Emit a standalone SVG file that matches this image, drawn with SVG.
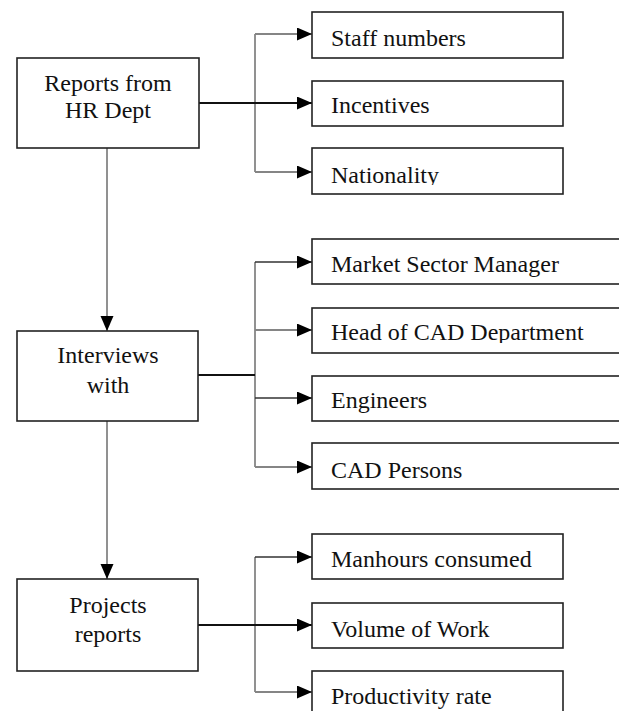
<svg xmlns="http://www.w3.org/2000/svg" width="619" height="711" viewBox="0 0 619 711">
<defs>
<marker id="ah" markerUnits="userSpaceOnUse" markerWidth="16" markerHeight="14" refX="15" refY="6.5" orient="auto">
<path d="M0,0 L15,6.5 L0,13 Z" fill="#000"/>
</marker>
<clipPath id="clipNat"><rect x="312" y="148" width="260" height="37"/></clipPath>
<clipPath id="clipHead"><rect x="312" y="308" width="320" height="35"/></clipPath>
</defs>
<g id="connectors" fill="none">
<g stroke="#858585" stroke-width="1.8">
<path d="M107,148 V331" marker-end="url(#ah)"/>
<path d="M107,421 V579" marker-end="url(#ah)"/>
<path d="M255,34 V172"/>
<path d="M255,34 H312" marker-end="url(#ah)"/>
<path d="M255,172 H312" marker-end="url(#ah)"/>
<path d="M255,262 V467"/>
<path d="M255,330 H312" marker-end="url(#ah)"/>
<path d="M255,467 H312" marker-end="url(#ah)"/>
<path d="M255,557 V692"/>
<path d="M255,692 H312" marker-end="url(#ah)"/>
</g>
<g stroke="#333" stroke-width="1.6">
<path d="M255,262 H312" marker-end="url(#ah)"/>
<path d="M255,398 H312" marker-end="url(#ah)"/>
<path d="M255,557 H312" marker-end="url(#ah)"/>
</g>
<g stroke="#111" stroke-width="2.2">
<path d="M198,103 H312" marker-end="url(#ah)"/>
<path d="M198,375 H255"/>
<path d="M198,625 H312" marker-end="url(#ah)"/>
</g>
</g>
<g id="nodes" font-family="Liberation Serif" font-size="24" fill="#111">
<g id="reports">
<rect x="17" y="58" width="182" height="90" fill="#fff" stroke="#222" stroke-width="1.6"/>
<text x="108" y="91" font-family="Liberation Serif" text-anchor="middle">Reports from</text>
<text x="108" y="118" font-family="Liberation Serif" text-anchor="middle">HR Dept</text>
</g>
<g id="interviews">
<rect x="17" y="331" width="181" height="90" fill="#fff" stroke="#222" stroke-width="1.6"/>
<text x="108" y="363" font-family="Liberation Serif" text-anchor="middle">Interviews</text>
<text x="108" y="393" font-family="Liberation Serif" text-anchor="middle">with</text>
</g>
<g id="projects">
<rect x="17" y="579" width="181" height="92" fill="#fff" stroke="#222" stroke-width="1.6"/>
<text x="108" y="613" font-family="Liberation Serif" text-anchor="middle">Projects</text>
<text x="108" y="642" font-family="Liberation Serif" text-anchor="middle">reports</text>
</g>
<g id="staff">
<rect x="312" y="12" width="251" height="46" fill="#fff" stroke="#222" stroke-width="1.6"/>
<text x="331" y="46" font-family="Liberation Serif">Staff numbers</text>
</g>
<g id="incentives">
<rect x="312" y="81" width="251" height="45" fill="#fff" stroke="#222" stroke-width="1.6"/>
<text x="331" y="113" font-family="Liberation Serif">Incentives</text>
</g>
<g id="nationality">
<rect x="312" y="148" width="251" height="46" fill="#fff" stroke="#222" stroke-width="1.6"/>
<text x="331" y="183" font-family="Liberation Serif" clip-path="url(#clipNat)">Nationality</text>
</g>
<g id="market">
<rect x="312" y="239" width="330" height="45" fill="#fff" stroke="#222" stroke-width="1.6"/>
<text x="331" y="272" font-family="Liberation Serif">Market Sector Manager</text>
</g>
<g id="head">
<rect x="312" y="308" width="330" height="45" fill="#fff" stroke="#222" stroke-width="1.6"/>
<text x="331" y="340" font-family="Liberation Serif" clip-path="url(#clipHead)">Head of CAD Department</text>
</g>
<g id="engineers">
<rect x="312" y="376" width="330" height="45" fill="#fff" stroke="#222" stroke-width="1.6"/>
<text x="331" y="408" font-family="Liberation Serif">Engineers</text>
</g>
<g id="cad">
<rect x="312" y="443" width="330" height="46" fill="#fff" stroke="#222" stroke-width="1.6"/>
<text x="331" y="478" font-family="Liberation Serif">CAD Persons</text>
</g>
<g id="manhours">
<rect x="312" y="534" width="251" height="45" fill="#fff" stroke="#222" stroke-width="1.6"/>
<text x="331" y="567" font-family="Liberation Serif">Manhours consumed</text>
</g>
<g id="volume">
<rect x="312" y="603" width="251" height="45" fill="#fff" stroke="#222" stroke-width="1.6"/>
<text x="331" y="637" font-family="Liberation Serif">Volume of Work</text>
</g>
<g id="productivity">
<rect x="312" y="671" width="251" height="60" fill="#fff" stroke="#222" stroke-width="1.6"/>
<text x="331" y="704" font-family="Liberation Serif">Productivity rate</text>
</g>
</g>
</svg>
